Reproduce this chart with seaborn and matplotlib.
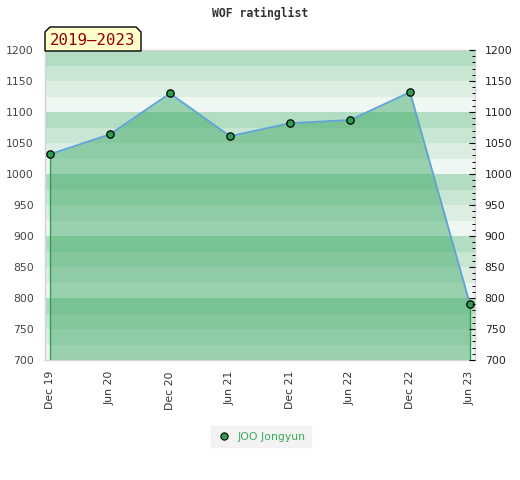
import matplotlib
matplotlib.use("Agg")
import matplotlib.pyplot as plt
from matplotlib.patches import Polygon
from matplotlib.lines import Line2D
from matplotlib.ticker import MultipleLocator
import seaborn as sns
import pandas as pd
import numpy as np

# ---- data ----
periods = ["Dec 19", "Jun 20", "Dec 20", "Jun 21", "Dec 21", "Jun 22", "Dec 22", "Jun 23"]
ratings = [1032, 1064, 1130, 1061, 1082, 1087, 1132, 790]
player = "JOO Jongyun"
title = "WOF ratinglist"
span_label = "2019\u20132023"

sns.set_theme(style="white")
plt.rcParams["font.family"] = ["DejaVu Sans"]

df = pd.DataFrame({"idx": np.arange(len(periods)), "rating": ratings, "player": player})

W, H = 520, 480
fig = plt.figure(figsize=(W / 100, H / 100), dpi=100)
L, R, T, B = 45, 475, 50, 360
ax = fig.add_axes([L / W, 1 - B / H, (R - L) / W, (B - T) / H])

ymin, ymax = 700, 1200
ax.set_ylim(ymin, ymax)
ax.set_xlim(-5 / 60, 7 + 5 / 60)

# background bands: 4 shades per 100 units, darker toward the top of each block
shades = ["#eff7f2", "#dceee2", "#c8e6d2", "#b3ddc2"]
for lo in range(ymin, ymax, 25):
    k = ((lo - ymin) // 25) % 4
    ax.axhspan(lo, lo + 25, color=shades[k], lw=0, zorder=0)

# area fill
ax.fill_between(df["idx"], ymin, df["rating"], color=(57 / 255, 165 / 255, 96 / 255), alpha=0.47, lw=0, zorder=1)
ax.vlines([df["idx"].iloc[0], df["idx"].iloc[-1]], ymin, [df["rating"].iloc[0], df["rating"].iloc[-1]],
          color="#2ea14f", lw=1.0, zorder=2)

sns.lineplot(data=df, x="idx", y="rating", ax=ax, color="#5ea3d9", lw=1.3, zorder=3, legend=False)
ax.scatter(df["idx"], df["rating"], s=28, color="#2e9e52", edgecolor="black", linewidth=0.9, zorder=4)

ax.set_xlabel("")
ax.set_ylabel("")
ax.set_xticks(df["idx"])
ax.set_xticklabels(periods, rotation=90, fontsize=7.8, color="#333333")
ax.tick_params(axis="x", length=0, pad=8)
ax.yaxis.set_major_locator(MultipleLocator(50))
ax.tick_params(axis="y", length=0, pad=8, labelsize=7.8, labelcolor="#444444")
for s in ax.spines.values():
    s.set_color("#d4d4d4")
    s.set_linewidth(1.0)

# right axis
ax2 = ax.twinx()
ax2.set_ylim(ymin, ymax)
ax2.yaxis.set_major_locator(MultipleLocator(50))
ax2.yaxis.set_minor_locator(MultipleLocator(10))
ax2.tick_params(axis="y", which="major", direction="in", length=4.5, width=0.8, color="black",
                pad=7, labelsize=7.8, labelcolor="#222222")
ax2.tick_params(axis="y", which="minor", direction="in", length=2.5, width=0.7, color="black")
for s in ax2.spines.values():
    s.set_visible(False)
ax2.grid(False)

# title
fig.text(260 / W, 1 - 13 / H, title, ha="center", va="center", family="DejaVu Sans Mono",
         fontweight="bold", fontsize=8.3, color="#333333")

# span label box with chamfered top corners
x0, x1, y0, y1, c = 45, 141, 51, 27, 5
pts = [(x0, y0), (x0, y1 + c), (x0 + c, y1), (x1 - c, y1), (x1, y1 + c), (x1, y0)]
poly = Polygon([(x / W, 1 - y / H) for x, y in pts], closed=True, transform=fig.transFigure,
               facecolor="#ffffcc", edgecolor="black", lw=1.0, zorder=10)
fig.patches.append(poly)
fig.text((x0 + x1) / 2 / W, 1 - 40.5 / H, span_label, ha="center", va="center",
         family="DejaVu Sans Mono", fontsize=11.3, color="#990000", zorder=11)

# legend
handle = Line2D([], [], marker="o", ls="none", markersize=5.2, markerfacecolor="#2e9e52",
                markeredgecolor="black", markeredgewidth=0.8)
leg = fig.legend([handle], [player], loc="center", bbox_to_anchor=(261 / W, 1 - 436.5 / H),
                 frameon=True, fancybox=False, facecolor="#f0f0f0", edgecolor="#f0f0f0",
                 fontsize=7.8, handletextpad=0.5, borderpad=0.55, handlelength=1.4)
for t in leg.get_texts():
    t.set_color("#3aaa5c")

fig.savefig("out.png", dpi=100)
